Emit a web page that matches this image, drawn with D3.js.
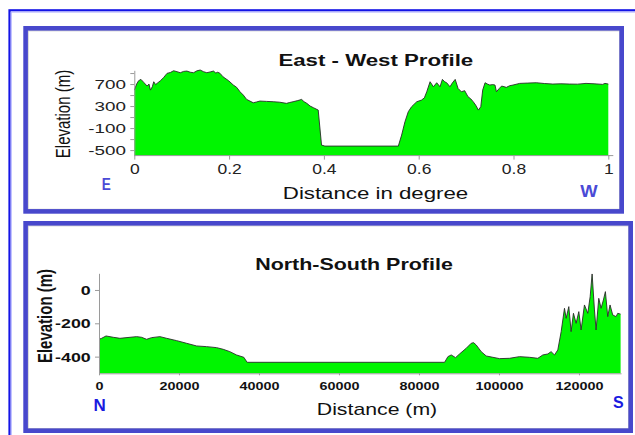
<!DOCTYPE html>
<html>
<head>
<meta charset="utf-8">
<script src="https://cdn.jsdelivr.net/npm/d3@7"></script>
<style>
  html, body { margin: 0; padding: 0; background: #fff; }
  svg { display: block; }
  text { font-family: "Liberation Sans", Arial, Helvetica, sans-serif; }
</style>
</head>
<body>
<svg id="chart" width="635" height="435"></svg>
<script>
// ---------- DATA ----------
// East - West profile
const ewTitle = "East - West Profile";
const ewXLabel = "Distance in degree";
const ewYLabel = "Elevation (m)";
const ewDistance = [0, 0.005, 0.009, 0.014, 0.020, 0.027, 0.031, 0.034, 0.038, 0.041, 0.045, 0.048, 0.055, 0.062, 0.069, 0.076, 0.083, 0.090, 0.097, 0.104, 0.111, 0.118, 0.125, 0.132, 0.139, 0.146, 0.153, 0.160, 0.167, 0.172, 0.176, 0.181, 0.187, 0.199, 0.209, 0.216, 0.223, 0.230, 0.237, 0.244, 0.251, 0.258, 0.265, 0.279, 0.293, 0.307, 0.321, 0.328, 0.335, 0.345, 0.353, 0.358, 0.364, 0.371, 0.378, 0.388, 0.395, 0.402, 0.557, 0.564, 0.571, 0.578, 0.585, 0.590, 0.596, 0.606, 0.612, 0.617, 0.624, 0.631, 0.638, 0.645, 0.650, 0.655, 0.659, 0.666, 0.671, 0.677, 0.683, 0.690, 0.697, 0.704, 0.710, 0.715, 0.720, 0.726, 0.731, 0.735, 0.740, 0.745, 0.750, 0.756, 0.761, 0.764, 0.770, 0.775, 0.785, 0.792, 0.799, 0.813, 0.830, 0.848, 0.865, 0.883, 0.900, 0.918, 0.935, 0.953, 0.970, 0.988, 0.993, 1.0];
const ewElevation = [591, 700, 760, 785, 730, 664, 700, 590, 650, 742, 690, 712, 760, 820, 894, 910, 942, 925, 906, 930, 936, 915, 906, 940, 955, 925, 906, 920, 936, 900, 915, 894, 833, 760, 682, 640, 560, 500, 421, 390, 360, 375, 391, 385, 379, 370, 349, 365, 379, 400, 421, 380, 349, 300, 270, 227, -409, -427, -427, -227, 15, 197, 288, 330, 379, 409, 450, 560, 742, 651, 724, 651, 785, 740, 724, 651, 720, 785, 621, 560, 580, 470, 430, 379, 320, 227, 288, 591, 724, 700, 682, 690, 682, 560, 620, 664, 640, 670, 682, 712, 718, 724, 710, 700, 705, 700, 698, 712, 705, 694, 712, 700];
const ewYTicks = [-500, -300, -100, 100, 300, 500, 700, 900];
const ewYTickLabels = ["-500", "", "-100", "", "300", "", "700", ""];
const ewXTicks = [0, 0.2, 0.4, 0.6, 0.8, 1];
const ewXTickLabels = ["0", "0.2", "0.4", "0.6", "0.8", "1"];
const ewLeftEnd = "E", ewRightEnd = "W";

// North - South profile
const nsTitle = "North-South Profile";
const nsXLabel = "Distance (m)";
const nsYLabel = "Elevation (m)";
const nsDistance = [0, 666, 1750, 3580, 5240, 7740, 9410, 10660, 11900, 13150, 15230, 16900, 19400, 21900, 24400, 26900, 29390, 31050, 32700, 34380, 36200, 37030, 86400, 87230, 88060, 89140, 90140, 91800, 93050, 93640, 94300, 95550, 96800, 98460, 100130, 102630, 105130, 107620, 109700, 110950, 112200, 113030, 113870, 114700, 115540, 116370, 116790, 117450, 118030, 118610, 119280, 119950, 120530, 121360, 122200, 122790, 123280, 123860, 124270, 124940, 125520, 126100, 126600, 127180, 127760, 128430, 129270, 129690, 130400];
const nsElevation = [-296, -290, -276, -284, -290, -284, -280, -284, -296, -286, -280, -290, -304, -320, -336, -340, -346, -356, -370, -390, -404, -434, -434, -400, -390, -406, -384, -350, -320, -316, -330, -370, -396, -404, -412, -410, -400, -404, -410, -390, -384, -370, -390, -360, -250, -110, -170, -100, -250, -140, -200, -130, -240, -90, -140, -40, 96, -120, -240, -50, -110, -60, -10, -160, -90, -150, -160, -140, -145];
const nsYTicks = [0, -200, -400];
const nsYTickLabels = ["0", "-200", "-400"];
const nsXTicks = [0, 20000, 40000, 60000, 80000, 100000, 120000];
const nsXTickLabels = ["0", "20000", "40000", "60000", "80000", "100000", "120000"];
const nsLeftEnd = "N", nsRightEnd = "S";

// ---------- DRAW ----------
const svg = d3.select("#chart");

function label(g, o) {
  return g.append("text")
    .attr("transform", `translate(${o.x},${o.y})` + (o.rotate ? " rotate(-90)" : "") +
      (o.rotate ? ` scale(1,${o.s || 1})` : ` scale(${o.s || 1},1)`))
    .attr("text-anchor", o.anchor || "middle")
    .attr("font-size", o.size)
    .attr("font-weight", o.weight || "normal")
    .attr("fill", o.fill || "#111")
    .text(o.text);
}

// outer frame
svg.append("rect").attr("x", 9.5).attr("y", 10.3).attr("width", 700).attr("height", 500)
  .attr("fill", "none").attr("stroke", "#1414e6").attr("stroke-width", 2.2);
svg.append("rect").attr("x", 11.3).attr("y", 12.1).attr("width", 700).attr("height", 500)
  .attr("fill", "none").attr("stroke", "#b4b4ff").attr("stroke-width", 1);

// panels
function panel(x0, y0, x1, y1) {
  svg.append("rect").attr("x", x0 + 4.8).attr("y", y0 + 4.8).attr("width", x1 - x0 - 9.2).attr("height", y1 - y0 - 9.2)
    .attr("fill", "none").attr("stroke", "#c4c4c4").attr("stroke-width", 1);
  svg.append("rect").attr("x", x0 + 2.3).attr("y", y0 + 2.3).attr("width", x1 - x0 - 4.6).attr("height", y1 - y0 - 4.6)
    .attr("fill", "none").attr("stroke", "#4848cc").attr("stroke-width", 4.6);
}
panel(23.3, 26, 624, 213.7);
panel(23.3, 221, 633, 433);

// ===== East - West =====
{
  const g = svg.append("g");
  const x = d3.scaleLinear().domain([0, 1]).range([134.3, 608.3]);
  const y = d3.scaleLinear().domain([-600, 950]).range([155.6, 70.3]);
  const data = ewDistance.map((d, i) => [d, ewElevation[i]]);

  g.append("path").datum(data)
    .attr("d", d3.area().x(d => x(d[0])).y0(y.range()[0]).y1(d => y(d[1])))
    .attr("fill", "#00f500");
  g.append("path").datum(data)
    .attr("d", d3.line().x(d => x(d[0])).y(d => y(d[1])))
    .attr("fill", "none").attr("stroke", "#2a2a2a").attr("stroke-width", 0.9);

  const ax = g.append("g").attr("transform", `translate(0,${y.range()[0]})`)
    .call(d3.axisBottom(x).tickValues(ewXTicks).tickSize(4).tickSizeOuter(0)
      .tickFormat((d, i) => ewXTickLabels[i]));
  ax.select(".domain").attr("stroke", "#9a9a9a").attr("d", `M${x(0)},0H${x(1) + 5}`);
  ax.selectAll(".tick line").attr("stroke", "#9a9a9a");
  ax.selectAll("text").attr("font-size", 14).attr("fill", "#222")
    .attr("y", 18.6).attr("dy", 0).attr("transform", "scale(1.25,1)")
    .style("font-family", "'Liberation Sans', Arial, sans-serif");

  const ay = g.append("g").attr("transform", `translate(${x(0)},0)`)
    .call(d3.axisLeft(y).tickValues(ewYTicks).tickSize(4).tickSizeOuter(0)
      .tickFormat((d, i) => ewYTickLabels[i]));
  ay.select(".domain").attr("stroke", "#9a9a9a");
  ay.selectAll(".tick line").attr("stroke", "#9a9a9a");
  ay.selectAll("text").attr("font-size", 13).attr("fill", "#222")
    .attr("x", -8.3 / 1.45).attr("dy", "0.36em").attr("transform", "scale(1.45,1)")
    .style("font-family", "'Liberation Sans', Arial, sans-serif");

  label(g, { x: 106.3, y: 189.5, text: ewLeftEnd, size: 17, weight: "bold", fill: "#4a4ad6", s: 0.8 });
  label(g, { x: 375.8, y: 65.7, text: ewTitle, size: 16, weight: "bold", s: 1.39 });
  label(g, { x: 375.5, y: 199, text: ewXLabel, size: 16, s: 1.39 });
  label(g, { x: 70, y: 114, text: ewYLabel, size: 15, s: 1.39, rotate: true });
  label(g, { x: 589, y: 196.7, text: ewRightEnd, size: 16, weight: "bold", fill: "#4a4ad6", s: 1.15 });
}

// ===== North - South =====
{
  const g = svg.append("g");
  const x = d3.scaleLinear().domain([0, 130500]).range([99, 621]);
  const y = d3.scaleLinear().domain([-500, 100]).range([373.3, 273.3]);
  const data = nsDistance.map((d, i) => [d, nsElevation[i]]);

  g.append("path").datum(data)
    .attr("d", d3.area().x(d => x(d[0])).y0(y.range()[0]).y1(d => y(d[1])))
    .attr("fill", "#00f500");
  g.append("path").datum(data)
    .attr("d", d3.line().x(d => x(d[0])).y(d => y(d[1])))
    .attr("fill", "none").attr("stroke", "#2a2a2a").attr("stroke-width", 0.9);

  const ax = g.append("g").attr("transform", `translate(0,${y.range()[0]})`)
    .call(d3.axisBottom(x).tickValues(nsXTicks).tickSize(2).tickSizeOuter(0)
      .tickFormat((d, i) => nsXTickLabels[i]));
  ax.select(".domain").attr("stroke", "#9a9a9a");
  ax.selectAll(".tick line").attr("stroke", "#9a9a9a");
  ax.selectAll("text").attr("font-size", 11.5).attr("font-weight", "bold").attr("fill", "#111")
    .attr("x", 0).attr("y", 16.3).attr("dy", 0).attr("transform", "scale(1.25,1)")
    .style("font-family", "'Liberation Sans', Arial, sans-serif");

  const ay = g.append("g").attr("transform", `translate(${x(0)},0)`)
    .call(d3.axisLeft(y).tickValues(nsYTicks).tickSize(4).tickSizeOuter(0)
      .tickFormat((d, i) => nsYTickLabels[i]));
  ay.select(".domain").attr("stroke", "#9a9a9a");
  ay.selectAll(".tick line").attr("stroke", "#9a9a9a");
  ay.selectAll("text").attr("font-size", 13).attr("font-weight", "bold").attr("fill", "#111")
    .attr("x", -8.3 / 1.37).attr("dy", "0.36em").attr("transform", "scale(1.37,1)")
    .style("font-family", "'Liberation Sans', Arial, sans-serif");

  label(g, { x: 354, y: 270, text: nsTitle, size: 16, weight: "bold", s: 1.34 });
  label(g, { x: 377, y: 415, text: nsXLabel, size: 17, s: 1.25 });
  label(g, { x: 51.7, y: 316, text: nsYLabel, size: 15, weight: "bold", s: 1.39, rotate: true });
  label(g, { x: 99.7, y: 410.7, text: nsLeftEnd, size: 17, weight: "bold", fill: "#1a1ae0" });
  label(g, { x: 618.3, y: 408.3, text: nsRightEnd, size: 16, weight: "bold", fill: "#1a1ae0" });
}
</script>
</body>
</html>
